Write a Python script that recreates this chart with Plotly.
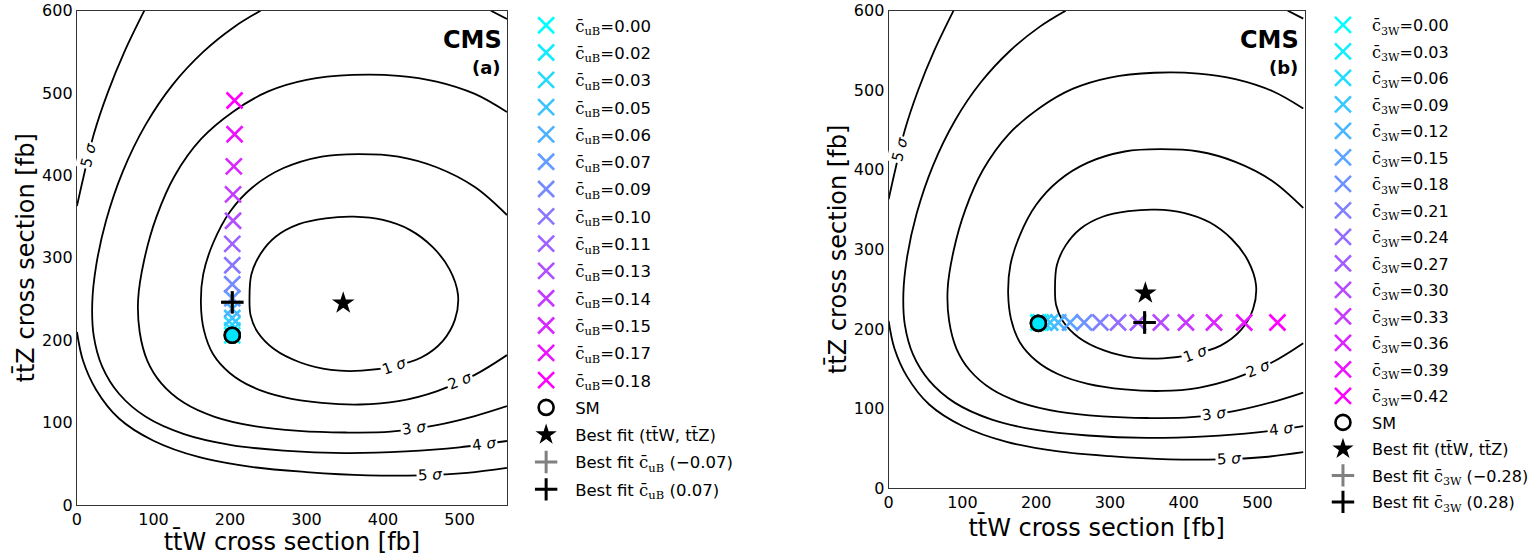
import plotly.graph_objects as go

# ---------------- data ----------------
# likelihood contours (identical in both panels): ttW [fb] (x) and ttZ [fb] (y)
s1_x = [225.5, 228, 240, 260, 290, 325, 362, 400, 435, 465, 487, 498, 494, 478, 450, 412, 372, 332, 292, 258, 236, 227, 225.5]
s1_y = [250, 280, 305, 326, 341, 348, 350, 346, 334, 313, 286, 255, 225, 199, 179, 168, 163, 164, 173, 189, 210, 230, 250]

s2_x = [562, 520, 470, 420, 368, 320, 270, 230, 200, 178, 165, 162, 166, 178, 200, 230, 270, 320, 370, 420, 470, 520, 562]
s2_y = [352, 386, 410, 423, 426, 423, 409, 386, 356, 318, 280, 245, 212, 183, 160, 143, 131, 124, 122, 126, 138, 158, 182]

s3_x = [562, 520, 470, 420, 360, 300, 250, 205, 162, 128, 104, 88, 80, 82, 92, 110, 140, 180, 230, 290, 350, 410, 470, 520, 562]
s3_y = [477, 499, 514, 521, 522, 516, 502, 478, 444, 400, 350, 298, 250, 210, 175, 148, 124, 107, 96, 90, 88, 89, 97, 108, 120]

s4_x = [240, 205, 165, 125, 90, 60, 38, 25, 20, 22, 33, 55, 90, 140, 200, 270, 350, 430, 500, 562]
s4_y = [600, 580, 550, 510, 462, 405, 345, 290, 245, 205, 168, 135, 107, 86, 73, 66, 63, 65, 70, 77.7]
s4b_x = [541, 562]
s4b_y = [600, 590]

s5a_x = [88, 62, 40, 22, 9, 0]
s5a_y = [600, 550, 500, 450, 400, 363]
s5b_x = [0, 8, 25, 55, 100, 160, 230, 300, 380, 450, 510, 562]
s5b_y = [210, 175, 140, 105, 78, 58, 46, 40, 36, 36, 39, 45]

# contour labels
lab_text = ["1", "2", "3", "4", "5", "5"]
lab_x = [415, 500, 441, 532, 461, 15]
lab_y = [169, 150, 93, 74, 37, 425]
lab_ang = [-20, -22, -8, -7, -3, -76]

# panel (a): c_uB scan
cuB_labels = ["0.00", "0.02", "0.03", "0.05", "0.06", "0.07", "0.09", "0.10", "0.11", "0.13", "0.14", "0.15", "0.17", "0.18"]
ttW_a = [203, 203, 203, 203, 203, 203, 203, 203, 203, 204, 204, 205, 206, 206]
ttZ_a = [206, 212, 219, 227, 238, 251, 268, 291, 317, 345, 377, 411, 450, 491]

# panel (b): c_3W scan
c3W_labels = ["0.00", "0.03", "0.06", "0.09", "0.12", "0.15", "0.18", "0.21", "0.24", "0.27", "0.30", "0.33", "0.36", "0.39", "0.42"]
ttW_b = [203, 206, 211, 219, 230, 246, 265, 287, 311, 338, 369, 403, 441, 482, 527]
ttZ_b = [208, 208, 208, 208, 208, 208, 208, 208, 208, 208, 208, 208, 208, 208, 208]

sm_a = (203, 206)
sm_b = (203, 207)
best_fit = (348, 245)
bf_neg_a = (203, 246)
bf_pos_a = (203, 246)
bf_neg_b = (347, 208)
bf_pos_b = (347, 208)
bf_a_labels = ("\u22120.07", "0.07")
bf_b_labels = ("\u22120.28", "0.28")

# ---------------- figure ----------------
FONT = "DejaVu Sans"
W, H = 1534, 556
fig = go.Figure()


def dx(px):
    return px / W


def dy(py):
    return 1 - py / H


def cool(i, n):
    t = i / (n - 1)
    return "rgb(%d,%d,255)" % (round(255 * t), round(255 * (1 - t)))


contours = [(s1_x, s1_y), (s2_x, s2_y), (s3_x, s3_y), (s4_x, s4_y), (s4b_x, s4b_y), (s5a_x, s5a_y), (s5b_x, s5b_y)]


def add_panel(xa, ya, leg, labels, cname, xs, ys, sm, bfn, bfp, bflab):
    for cx, cy in contours:
        fig.add_trace(go.Scatter(x=cx, y=cy, mode="lines", xaxis=xa, yaxis=ya,
                                 line=dict(color="black", width=1.8, shape="spline", smoothing=1.0),
                                 showlegend=False, hoverinfo="skip", legend=leg))
    n = len(labels)
    for i, (lab, xv, yv) in enumerate(zip(labels, xs, ys)):
        fig.add_trace(go.Scatter(
            x=[xv], y=[yv], mode="markers", xaxis=xa, yaxis=ya, legend=leg, legendgroup="%s%d" % (leg, i),
            name="<span style='font-family:DejaVu Serif'>c\u0304<sub>%s</sub></span>=%s" % (cname, lab),
            marker=dict(symbol="x-thin", size=16, line=dict(width=2.6, color=cool(i, n)), color=cool(i, n))))
    fig.add_trace(go.Scatter(x=[sm[0]], y=[sm[1]], mode="markers", xaxis=xa, yaxis=ya, legend=leg, name="SM",
                             legendgroup=leg + "sm",
                             marker=dict(symbol="circle-open", size=15, line=dict(width=2.6, color="black"), color="black")))
    fig.add_trace(go.Scatter(x=[sm[0]], y=[sm[1]], mode="markers", xaxis=xa, yaxis=ya, legend=leg, showlegend=False,
                             legendgroup=leg + "sm",
                             marker=dict(symbol="circle", size=15, color="rgb(0,230,255)", line=dict(width=2.6, color="black"))))
    fig.add_trace(go.Scatter(x=[best_fit[0]], y=[best_fit[1]], mode="markers", xaxis=xa, yaxis=ya, legend=leg,
                             legendgroup=leg + "bf", name="Best fit (tt\u0304W, tt\u0304Z)",
                             marker=dict(symbol="star", size=17, color="black", line=dict(width=0))))
    fig.add_trace(go.Scatter(x=[bfn[0]], y=[bfn[1]], mode="markers", xaxis=xa, yaxis=ya, legend=leg,
                             legendgroup=leg + "bfn",
                             name="Best fit <span style='font-family:DejaVu Serif'>c\u0304<sub>%s</sub></span> (%s)" % (cname, bflab[0]),
                             marker=dict(symbol="cross-thin", size=16, line=dict(width=3, color="gray"), color="gray")))
    fig.add_trace(go.Scatter(x=[bfp[0]], y=[bfp[1]], mode="markers", xaxis=xa, yaxis=ya, legend=leg,
                             legendgroup=leg + "bfp",
                             name="Best fit <span style='font-family:DejaVu Serif'>c\u0304<sub>%s</sub></span> (%s)" % (cname, bflab[1]),
                             marker=dict(symbol="cross-thin", size=16, line=dict(width=3, color="black"), color="black")))
    for t, lx, ly, ang in zip(lab_text, lab_x, lab_y, lab_ang):
        fig.add_annotation(x=lx, y=ly, xref=xa, yref=ya, text=t + " <i>σ</i>", showarrow=False,
                           textangle=ang, bgcolor="white", borderpad=1,
                           font=dict(family=FONT, size=15, color="black"))


add_panel("x", "y", "legend", cuB_labels, "uB", ttW_a, ttZ_a, sm_a, bf_neg_a, bf_pos_a, bf_a_labels)
add_panel("x2", "y2", "legend2", c3W_labels, "3W", ttW_b, ttZ_b, sm_b, bf_neg_b, bf_pos_b, bf_b_labels)

axis_common = dict(showgrid=False, zeroline=False, showline=True, mirror=True, linecolor="#333",
                   linewidth=1.2, ticks="", tickfont=dict(family=FONT, size=16, color="black"),
                   automargin=False, ticklabeloverflow="allow")

fig.update_layout(
    width=W, height=H, margin=dict(l=0, r=0, t=0, b=0),
    plot_bgcolor="white", paper_bgcolor="white",
    font=dict(family=FONT, color="black"),
    xaxis=dict(domain=[dx(77.3), dx(509.3)], range=[0, 562], dtick=100, anchor="y",
               title=dict(text="tt\u0304W cross section [fb]", font=dict(size=24), standoff=0), **axis_common),
    yaxis=dict(domain=[dy(505), dy(10.7)], range=[0, 600], dtick=100, anchor="x",
               title=dict(text="tt\u0304Z cross section [fb]", font=dict(size=24), standoff=0), **axis_common),
    xaxis2=dict(domain=[dx(892.7), dx(1310.7)], range=[0, 564], dtick=100, anchor="y2",
                title=dict(text="tt\u0304W cross section [fb]", font=dict(size=24), standoff=0), **axis_common),
    yaxis2=dict(domain=[dy(488), dy(10.7)], range=[0, 600], dtick=100, anchor="x2",
                title=dict(text="tt\u0304Z cross section [fb]", font=dict(size=24), standoff=0), **axis_common),
    legend=dict(x=dx(519.5), y=dy(8), xanchor="left", yanchor="top", bgcolor="rgba(0,0,0,0)",
                font=dict(family=FONT, size=16.5), itemwidth=48, tracegroupgap=2.85),
    legend2=dict(x=dx(1320), y=dy(8), xanchor="left", yanchor="top", bgcolor="rgba(0,0,0,0)",
                 font=dict(family=FONT, size=16), itemwidth=48, tracegroupgap=2.7),
)

for xr, tag in [(506, "(a)"), (1307, "(b)")]:
    fig.add_annotation(x=dx(xr), y=dy(39.7), xref="paper", yref="paper", text="<b>CMS</b>", showarrow=False,
                       xanchor="right", yanchor="middle", font=dict(family=FONT, size=24, color="black"))
    fig.add_annotation(x=dx(xr - 1), y=dy(67.4), xref="paper", yref="paper", text="<b>%s</b>" % tag, showarrow=False,
                       xanchor="right", yanchor="middle", font=dict(family=FONT, size=18, color="black"))

# remove the default 8px page margin so the figure sits at the window origin
fig.write_html("out.html", config={"displayModeBar": False},
               post_script="document.body.style.margin='0px';")
